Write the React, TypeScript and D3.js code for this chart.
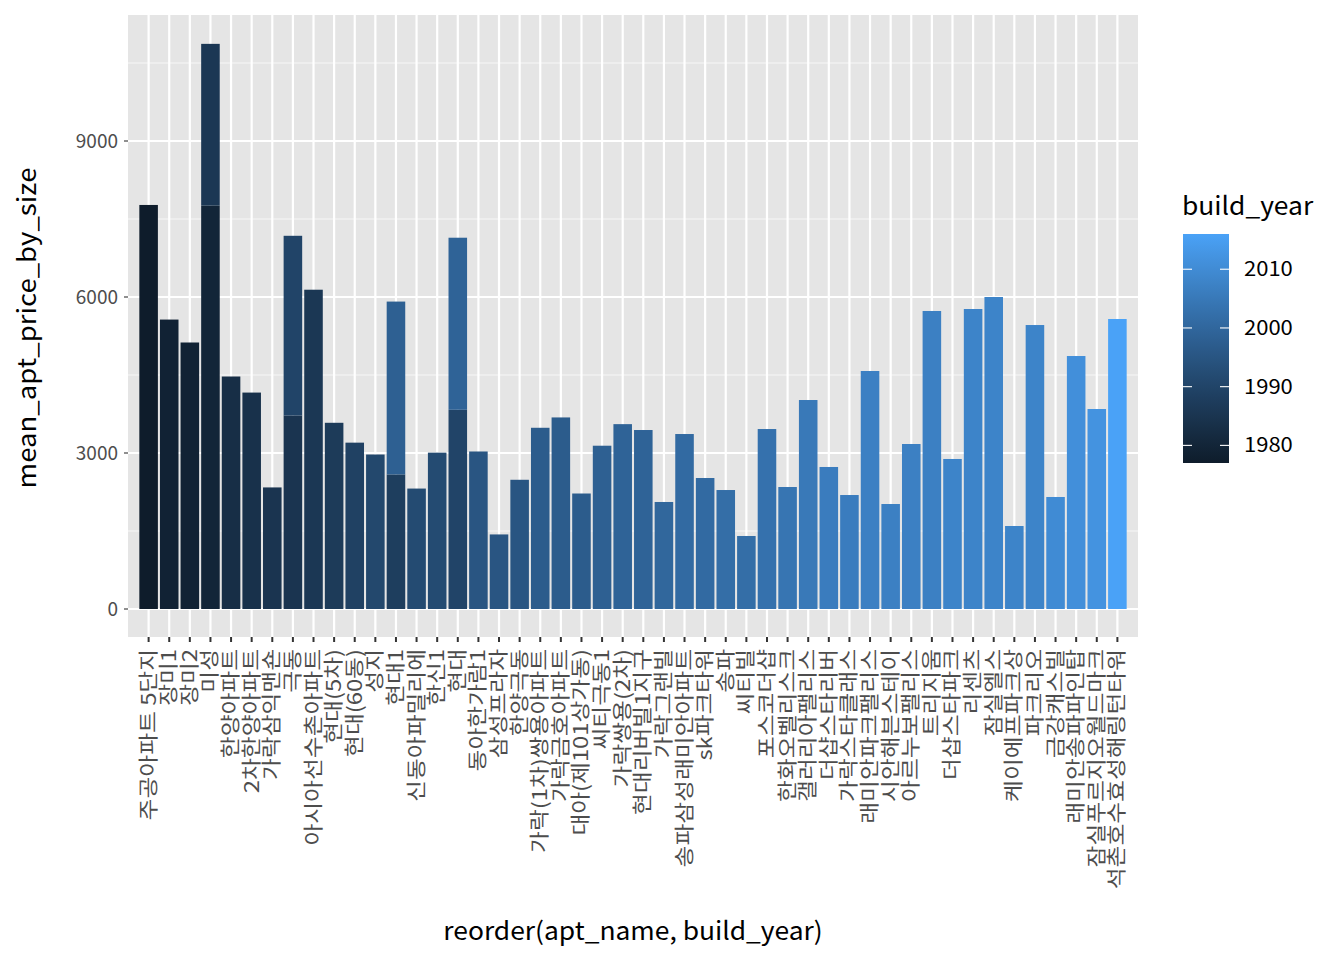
import React from "react";
import * as d3 from "d3";

const aptNames = ["주공아파트 5단지","장미1","장미2","미성","한양아파트","2차한양아파트","가락삼익맨숀","극동","아시아선수촌아파트","현대(5차)","현대(60동)","성지","현대1","신동아파밀리에","한신1","현대","동아한가람1","삼성프라자","한양극동","가락(1차)쌍용아파트","가락금호아파트","대아(제101상가동)","씨티극동1","가락쌍용(2차)","현대리버빌1지구","가락그랜빌","송파삼성래미안아파트","sk파크타워","송파","씨티빌","포스코더샵","한화오벨리스크","갤러리아팰리스","더샵스타리버","가락스타클래스","래미안파크팰리스","시안해븐스테이","아르누보팰리스","트리지움","더샵스타파크","리센츠","잠실엘스","케이에프파크상","파크리오","금강캐스빌","래미안송파파인탑","잠실푸르지오월드마크","석촌호수효성해링턴타워"];
const lowerPrice = [7770,5566,5125,7757,4471,4162,2338,3721,6140,3581,3199,2971,2588,2316,3007,3831,3029,1434,2485,3485,3684,2221,3140,3555,3442,2058,3365,2519,2288,1404,3461,2346,4019,2731,2192,4577,2019,3173,5731,2885,5769,6000,1596,5461,2154,4865,3846,5577];
const lowerYear = [1977,1979,1979,1980,1983,1984,1985,1985,1986,1987,1989,1991,1988,1992,1992,1990,1995,1995,1995,1997,1997,1997,1998,1999,1999,2000,2001,2001,2002,2002,2003,2004,2005,2006,2006,2007,2007,2007,2007,2008,2008,2008,2008,2008,2010,2011,2012,2016];
const upperPrice = [0,0,0,3111,0,0,0,3456,0,0,0,0,3324,0,0,3309,0,0,0,0,0,0,0,0,0,0,0,0,0,0,0,0,0,0,0,0,0,0,0,0,0,0,0,0,0,0,0,0];
const upperYear = [0,0,0,1986,0,0,0,1990,0,0,0,0,1998,0,0,1999,0,0,0,0,0,0,0,0,0,0,0,0,0,0,0,0,0,0,0,0,0,0,0,0,0,0,0,0,0,0,0,0];
const yTicks = [0,3000,6000,9000];
const yMinor = [1500,4500,7500,10500];
const legendTicks = [1980,1990,2000,2010];
const yearMin = 1977, yearMax = 2016;

const FONT = "'Noto Sans CJK KR', 'Noto Sans', sans-serif";

export default function App() {
  const L = 128, R = 1138, T = 15, B = 637;
  const x = d3.scaleBand<string>().domain(aptNames).range([L, R]).paddingInner(0.1).paddingOuter(0.55);
  const y = d3.scaleLinear().domain([0, 10000]).range([609, 609 - 520]);
  const color = d3.scaleLinear<string>().domain([yearMin, yearMax]).range(["#0E1C2B", "#4AA2F7"]).interpolate(d3.interpolateLab);
  const ly = d3.scaleLinear().domain([yearMin, yearMax]).range([463, 234]);
  const gradStops = d3.range(0, 11).map(i => yearMin + (yearMax - yearMin) * i / 10);
  return (
    <svg width={1344} height={960} style={{ position: "absolute", left: 0, top: 0, background: "#fff" }} fontFamily={FONT}>
      <defs>
        <linearGradient id="cb" x1="0" y1="1" x2="0" y2="0">
          {gradStops.map((s, i) => <stop key={i} offset={`${i * 10}%`} stopColor={color(s)} />)}
        </linearGradient>
      </defs>
      <rect x={L} y={T} width={R - L} height={B - T} fill="#E5E5E5" />
      {yMinor.map(v => <line key={"m" + v} x1={L} x2={R} y1={y(v)} y2={y(v)} stroke="#F7F7F7" strokeWidth={1.1} />)}
      {yTicks.map(v => <line key={"M" + v} x1={L} x2={R} y1={y(v)} y2={y(v)} stroke="#fff" strokeWidth={2.2} />)}
      {aptNames.map(n => { const cx = x(n)! + x.bandwidth() / 2; return <line key={"v" + n} x1={cx} x2={cx} y1={T} y2={B} stroke="#fff" strokeWidth={2.2} />; })}
      {aptNames.map((n, i) => (
        <g key={"b" + n}>
          <rect x={x(n)} width={x.bandwidth()} y={y(lowerPrice[i])} height={y(0) - y(lowerPrice[i])} fill={color(lowerYear[i])} />
          {upperPrice[i] > 0 && <rect x={x(n)} width={x.bandwidth()} y={y(lowerPrice[i] + upperPrice[i])} height={y(lowerPrice[i]) - y(lowerPrice[i] + upperPrice[i])} fill={color(upperYear[i])} />}
        </g>
      ))}
      {yTicks.map(v => (
        <g key={"yt" + v}>
          <line x1={L - 4} x2={L} y1={y(v)} y2={y(v)} stroke="#333" strokeWidth={1.1} />
          <text x={L - 10} y={y(v)} dy="0.35em" textAnchor="end" fontSize={19} fill="#4D4D4D">{v}</text>
        </g>
      ))}
      {aptNames.map(n => { const cx = x(n)! + x.bandwidth() / 2; return (
        <g key={"xt" + n}>
          <line x1={cx} x2={cx} y1={B} y2={B + 5} stroke="#333" strokeWidth={2} />
          <text transform={`translate(${cx},${B + 12}) rotate(-90) scale(1.25,1.05)`} textAnchor="end" dy="0.35em" fontSize={19} fill="#4D4D4D">{n}</text>
        </g>); })}
      <text transform={`translate(36,${(T + B) / 2 + 2}) rotate(-90) scale(1.15,1.05)`} textAnchor="middle" fontSize={24} fill="#000">mean_apt_price_by_size</text>
      <text transform={`translate(${(L + R) / 2},940) scale(1.1,1.05)`} textAnchor="middle" fontSize={24} fill="#000">reorder(apt_name, build_year)</text>
      <text transform="translate(1182,215) scale(1.1,1.05)" fontSize={24} fill="#000">build_year</text>
      <rect x={1183} y={234} width={46} height={229} fill="url(#cb)" />
      {legendTicks.map(t => (
        <g key={"lt" + t}>
          <line x1={1183} x2={1192} y1={ly(t)} y2={ly(t)} stroke="#fff" strokeWidth={1.1} />
          <line x1={1220} x2={1229} y1={ly(t)} y2={ly(t)} stroke="#fff" strokeWidth={1.1} />
          <text transform={`translate(1244,${ly(t)}) scale(1.1,1)`} dy="0.35em" fontSize={20} fill="#000">{t}</text>
        </g>
      ))}
    </svg>
  );
}
